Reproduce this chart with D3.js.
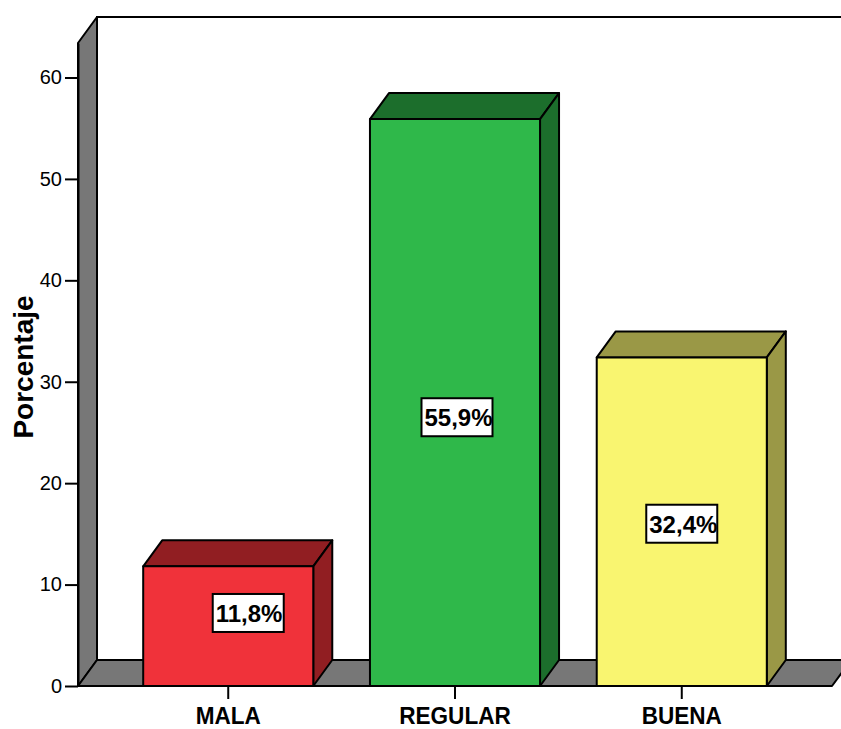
<!DOCTYPE html>
<html>
<head>
<meta charset="utf-8">
<script src="https://cdn.jsdelivr.net/npm/d3@7"></script>
<style>
  body { margin: 0; background: #fff; }
  svg { display: block; font-family: Arial, "Liberation Sans", sans-serif; }
</style>
</head>
<body>
<div id="chart"></div>
<script>
// data
var categories = ["MALA", "REGULAR", "BUENA"];
var values = [11.8, 55.9, 32.4];
var valueLabels = ["11,8%", "55,9%", "32,4%"];
var frontColors = ["#f0323a", "#2fb84a", "#f9f570"];
var darkColors = ["#911e22", "#1c6e2c", "#9a9846"];
var yTicks = [0, 10, 20, 30, 40, 50, 60];

// where the value boxes sit (x shift from bar centre, height in axis units)
var labelShift = [20, 2, 0];
var labelLevel = [7.2, 26.5, 16.0];

var w = 841, h = 729;
var dx = 19, dy = -26;   // depth of the 3d effect

var svg = d3.select("#chart").append("svg")
  .attr("width", w)
  .attr("height", h);

var x = d3.scaleBand()
  .domain(categories)
  .range([78, 832])
  .paddingInner(0.25)
  .paddingOuter(0.2875);

var y = d3.scaleLinear()
  .domain([0, 63.4])
  .range([686, 43]);

var x0 = x.range()[0], x1 = x.range()[1];
var yBase = y(0), yTop = y(63.4);

// back wall outline
svg.append("path")
  .attr("d", "M" + (x0 + dx) + "," + (yBase + dy) + "V" + (yTop + dy) + "H" + (w + 5))
  .attr("fill", "none")
  .attr("stroke", "#000")
  .attr("stroke-width", 2);

// left wall
svg.append("polygon")
  .attr("points", [[x0, yBase], [x0, yTop], [x0 + dx, yTop + dy], [x0 + dx, yBase + dy]].join(" "))
  .attr("fill", "#777")
  .attr("stroke", "#000")
  .attr("stroke-width", 2)
  .attr("stroke-linejoin", "round");

// floor
svg.append("polygon")
  .attr("points", [[x0, yBase], [x0 + dx, yBase + dy], [x1 + dx, yBase + dy], [x1, yBase]].join(" "))
  .attr("fill", "#777")
  .attr("stroke", "#000")
  .attr("stroke-width", 2)
  .attr("stroke-linejoin", "round");

// bars
var bars = svg.selectAll("g.bar")
  .data(values)
  .enter()
  .append("g")
  .attr("class", "bar");

var bw = x.bandwidth();

bars.append("polygon")   // top
  .attr("points", function(d, i) {
    var bx = x(categories[i]), by = y(d);
    return [[bx, by], [bx + dx, by + dy], [bx + bw + dx, by + dy], [bx + bw, by]].join(" ");
  })
  .attr("fill", function(d, i) { return darkColors[i]; });

bars.append("polygon")   // side
  .attr("points", function(d, i) {
    var bx = x(categories[i]) + bw, by = y(d);
    return [[bx, by], [bx + dx, by + dy], [bx + dx, yBase + dy], [bx, yBase]].join(" ");
  })
  .attr("fill", function(d, i) { return darkColors[i]; });

bars.append("rect")      // front
  .attr("x", function(d, i) { return x(categories[i]); })
  .attr("y", function(d) { return y(d); })
  .attr("width", bw)
  .attr("height", function(d) { return yBase - y(d); })
  .attr("fill", function(d, i) { return frontColors[i]; });

bars.selectAll("polygon, rect")
  .attr("stroke", "#000")
  .attr("stroke-width", 2)
  .attr("stroke-linejoin", "round");

// y axis
var yAxis = svg.append("g")
  .attr("transform", "translate(" + x0 + ",0)")
  .call(d3.axisLeft(y).tickValues(yTicks).tickSize(13).tickSizeOuter(0).tickPadding(3));
yAxis.select(".domain").attr("stroke-width", 2);
yAxis.selectAll(".tick line").attr("stroke-width", 2);
yAxis.selectAll(".tick text")
  .attr("font-size", "20px")
  .attr("font-family", "Arial, 'Liberation Sans', sans-serif")
  .attr("fill", "#000");

// x axis
var xAxis = svg.append("g")
  .attr("transform", "translate(0," + yBase + ")")
  .call(d3.axisBottom(x).tickSize(13).tickSizeOuter(0).tickPadding(8));
xAxis.select(".domain").remove();
xAxis.selectAll(".tick line").attr("stroke-width", 2);
xAxis.selectAll(".tick text")
  .attr("font-size", "24px")
  .attr("font-weight", "bold")
  .attr("font-family", "Arial, 'Liberation Sans', sans-serif")
  .attr("fill", "#000")
  .attr("transform", "scale(0.94,1)");

// axis title
svg.append("text")
  .attr("transform", "translate(33,367) rotate(-90)")
  .attr("text-anchor", "middle")
  .attr("font-size", "28px")
  .attr("font-weight", "bold")
  .text("Porcentaje");

// value boxes
var defs = svg.append("defs");
var boxW = 71, boxH = 38;

values.forEach(function(d, i) {
  var cx = x(categories[i]) + bw / 2 + labelShift[i];
  var cy = y(labelLevel[i]);
  defs.append("clipPath")
    .attr("id", "clip" + i)
    .append("rect")
    .attr("x", cx - boxW / 2)
    .attr("y", cy - boxH / 2)
    .attr("width", boxW)
    .attr("height", boxH);

  var g = svg.append("g");
  g.append("rect")
    .attr("x", cx - boxW / 2)
    .attr("y", cy - boxH / 2)
    .attr("width", boxW)
    .attr("height", boxH)
    .attr("fill", "#fff");
  g.append("text")
    .attr("clip-path", "url(#clip" + i + ")")
    .attr("x", cx - boxW / 2 + 3)
    .attr("y", cy + 9)
    .attr("font-size", "24px")
    .attr("font-weight", "bold")
    .text(valueLabels[i]);
  g.append("rect")
    .attr("x", cx - boxW / 2)
    .attr("y", cy - boxH / 2)
    .attr("width", boxW)
    .attr("height", boxH)
    .attr("fill", "none")
    .attr("stroke", "#000")
    .attr("stroke-width", 2);
});
</script>
</body>
</html>
